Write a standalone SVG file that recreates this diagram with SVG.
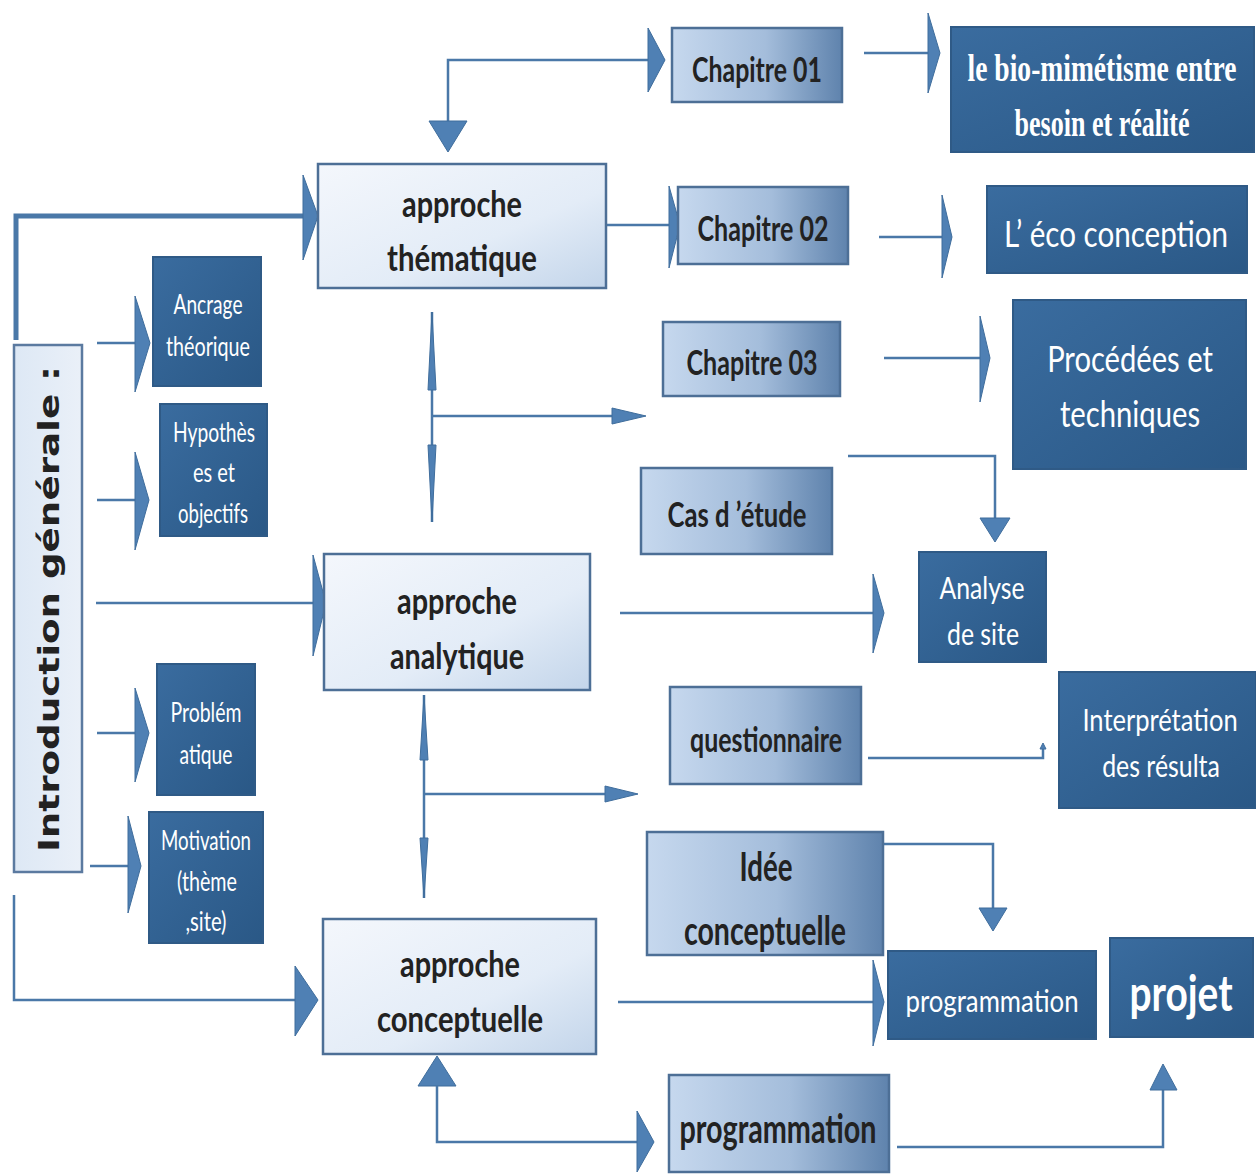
<svg xmlns="http://www.w3.org/2000/svg" width="1256" height="1175" viewBox="0 0 1256 1175">
<defs>
<linearGradient id="gLight" x1="0" y1="0" x2="1" y2="1">
<stop offset="0" stop-color="#f4f7fc"/><stop offset="0.6" stop-color="#e3ecf7"/><stop offset="1" stop-color="#c3d5ea"/>
</linearGradient>
<linearGradient id="gChap" x1="0" y1="0" x2="1" y2="0">
<stop offset="0" stop-color="#c6d8ee"/><stop offset="0.55" stop-color="#a4bddb"/><stop offset="1" stop-color="#5f83ad"/>
</linearGradient>
<linearGradient id="gDark" x1="0" y1="0" x2="1" y2="1">
<stop offset="0" stop-color="#3a6c9f"/><stop offset="1" stop-color="#2a5886"/>
</linearGradient>
<linearGradient id="gIntro" x1="0" y1="0" x2="1" y2="0">
<stop offset="0" stop-color="#dde8f5"/><stop offset="1" stop-color="#eaf0f8"/>
</linearGradient>
</defs>
<style>
.light{fill:url(#gLight);stroke:#4d6f96;stroke-width:2.5}
.chap{fill:url(#gChap);stroke:#4d6f96;stroke-width:2.5}
.dark{fill:url(#gDark);stroke:#2f5a86;stroke-width:2}
.intro{fill:url(#gIntro);stroke:#5b7aa0;stroke-width:2.5}
.tb{font-family:"Lato","Liberation Sans",sans-serif;font-weight:bold;fill:#222222;text-anchor:middle;dominant-baseline:central}
.tw{font-family:"Lato","Liberation Sans",sans-serif;fill:#ffffff;text-anchor:middle;dominant-baseline:central}
.ts{font-family:"Liberation Serif",serif;font-weight:bold;fill:#ffffff;text-anchor:middle;dominant-baseline:central}
.ln{fill:none;stroke:#4a78a8;stroke-width:2.5}
.ah{fill:#4f80b4;stroke:#3f6d9c;stroke-width:1}
</style>
<rect width="1256" height="1175" fill="#ffffff"/>

<g id="connectors">
<path class="ln" d="M16 340 V216 H305" style="stroke-width:5"/>
<polygon class="ah" points="303,175 318,216 303,260"/>
<path class="ln" d="M14 895 V1000 H296"/>
<polygon class="ah" points="295,966 318,1000 295,1036"/>
<path class="ln" d="M96 603 H314"/>
<polygon class="ah" points="313,555 326,603 313,656"/>
<path class="ln" d="M97 343 H136"/>
<polygon class="ah" points="135,296 150,343 135,392"/>
<path class="ln" d="M97 500 H136"/>
<polygon class="ah" points="135,452 149,500 135,550"/>
<path class="ln" d="M97 733 H136"/>
<polygon class="ah" points="135,688 149,733 135,782"/>
<path class="ln" d="M90 866 H129"/>
<polygon class="ah" points="128,816 141,866 128,913"/>
<path class="ln" d="M448 122 V60 H650"/>
<polygon class="ah" points="429,121 467,121 448,152"/>
<polygon class="ah" points="648,28 665,60 648,92"/>
<path class="ln" d="M864 53 H929"/>
<polygon class="ah" points="928,13 940,53 928,93"/>
<path class="ln" d="M606 225 H670"/>
<polygon class="ah" points="669,186 680,225 669,268"/>
<path class="ln" d="M879 237 H943"/>
<polygon class="ah" points="942,195 952,237 942,278"/>
<path class="ln" d="M884 358 H981"/>
<polygon class="ah" points="980,316 990,358 980,402"/>
<path class="ln" d="M432 312 V522"/>
<polygon class="ah" points="432,312 436,390 428,390"/>
<polygon class="ah" points="428,445 436,445 432,522"/>
<path class="ln" d="M432 416 H614"/>
<polygon class="ah" points="612,408 646,416 612,424"/>
<path class="ln" d="M848 456 H995 V519"/>
<polygon class="ah" points="980,518 1010,518 995,542"/>
<path class="ln" d="M620 613 H874"/>
<polygon class="ah" points="873,574 884,613 873,653"/>
<path class="ln" d="M424 695 V898"/>
<polygon class="ah" points="424,695 428,760 420,760"/>
<polygon class="ah" points="420,838 428,838 424,898"/>
<path class="ln" d="M424 794 H607"/>
<polygon class="ah" points="605,786 638,794 605,802"/>
<path class="ln" d="M868 758 H1043 V748"/>
<polygon class="ah" points="1040,749 1046,749 1043,743"/>
<path class="ln" d="M847 844 H993 V909"/>
<polygon class="ah" points="979,908 1007,908 993,931"/>
<path class="ln" d="M618 1002 H874"/>
<polygon class="ah" points="873,960 884,1002 873,1046"/>
<polygon class="ah" points="418,1086 456,1086 437,1056"/>
<path class="ln" d="M437 1086 V1142 H638"/>
<polygon class="ah" points="637,1111 654,1142 637,1172"/>
<path class="ln" d="M897 1147 H1163 V1090"/>
<polygon class="ah" points="1150,1090 1177,1090 1163,1064"/>
</g>

<g id="intro">
<rect class="intro" x="14" y="345" width="68" height="527"/>
<text class="tb" transform="translate(49,609) rotate(-90)" style="font-family:'DejaVu Sans',sans-serif;font-size:28px" textLength="486" lengthAdjust="spacingAndGlyphs">Introduction générale :</text>
</g>

<g id="approche-thematique">
<rect class="light" x="318" y="164" width="288" height="124"/>
<text class="tb" x="462" y="203" style="font-size:36px" textLength="120" lengthAdjust="spacingAndGlyphs">approche</text>
<text class="tb" x="462" y="257" style="font-size:36px" textLength="150" lengthAdjust="spacingAndGlyphs">thématique</text>
</g>

<g id="approche-analytique">
<rect class="light" x="324" y="554" width="266" height="136"/>
<text class="tb" x="457" y="600" style="font-size:36px" textLength="120" lengthAdjust="spacingAndGlyphs">approche</text>
<text class="tb" x="457" y="655" style="font-size:36px" textLength="134" lengthAdjust="spacingAndGlyphs">analytique</text>
</g>

<g id="approche-conceptuelle">
<rect class="light" x="323" y="919" width="273" height="135"/>
<text class="tb" x="460" y="963" style="font-size:36px" textLength="120" lengthAdjust="spacingAndGlyphs">approche</text>
<text class="tb" x="460" y="1018" style="font-size:36px" textLength="166" lengthAdjust="spacingAndGlyphs">conceptuelle</text>
</g>

<g id="ancrage">
<rect class="dark" x="153" y="257" width="108" height="129"/>
<text class="tw" x="208" y="304" style="font-size:26px" textLength="69" lengthAdjust="spacingAndGlyphs">Ancrage</text>
<text class="tw" x="208" y="346" style="font-size:26px" textLength="84" lengthAdjust="spacingAndGlyphs">théorique</text>
</g>

<g id="hypotheses">
<rect class="dark" x="160" y="404" width="107" height="132"/>
<text class="tw" x="214" y="432" style="font-size:26px" textLength="82" lengthAdjust="spacingAndGlyphs">Hypothès</text>
<text class="tw" x="214" y="472" style="font-size:26px" textLength="42" lengthAdjust="spacingAndGlyphs">es et</text>
<text class="tw" x="213" y="513" style="font-size:26px" textLength="70" lengthAdjust="spacingAndGlyphs">objectifs</text>
</g>

<g id="problematique">
<rect class="dark" x="157" y="664" width="98" height="131"/>
<text class="tw" x="206" y="712" style="font-size:26px" textLength="71" lengthAdjust="spacingAndGlyphs">Problém</text>
<text class="tw" x="206" y="754" style="font-size:26px" textLength="53" lengthAdjust="spacingAndGlyphs">atique</text>
</g>

<g id="motivation">
<rect class="dark" x="149" y="812" width="114" height="131"/>
<text class="tw" x="206" y="840" style="font-size:26px" textLength="90" lengthAdjust="spacingAndGlyphs">Motivation</text>
<text class="tw" x="207" y="881" style="font-size:26px" textLength="60" lengthAdjust="spacingAndGlyphs">(thème</text>
<text class="tw" x="206" y="921" style="font-size:26px" textLength="41" lengthAdjust="spacingAndGlyphs">,site)</text>
</g>

<g id="chapitre01">
<rect class="chap" x="672" y="28" width="170" height="74"/>
<text class="tb" x="757" y="68" style="font-size:34px" textLength="130" lengthAdjust="spacingAndGlyphs">Chapitre 01</text>
</g>

<g id="chapitre02">
<rect class="chap" x="678" y="187" width="170" height="77"/>
<text class="tb" x="763" y="227" style="font-size:34px" textLength="131" lengthAdjust="spacingAndGlyphs">Chapitre 02</text>
</g>

<g id="chapitre03">
<rect class="chap" x="663" y="322" width="177" height="74"/>
<text class="tb" x="752" y="361" style="font-size:34px" textLength="131" lengthAdjust="spacingAndGlyphs">Chapitre 03</text>
</g>

<g id="cas-etude">
<rect class="chap" x="641" y="468" width="191" height="86"/>
<text class="tb" x="737" y="513" style="font-size:34px" textLength="139" lengthAdjust="spacingAndGlyphs">Cas d ’étude</text>
</g>

<g id="questionnaire">
<rect class="chap" x="670" y="687" width="191" height="97"/>
<text class="tb" x="766" y="738" style="font-size:34px" textLength="152" lengthAdjust="spacingAndGlyphs">questionnaire</text>
</g>

<g id="idee-conceptuelle">
<rect class="chap" x="647" y="832" width="236" height="123"/>
<text class="tb" x="766" y="866" style="font-size:40px" textLength="53" lengthAdjust="spacingAndGlyphs">Idée</text>
<text class="tb" x="765" y="930" style="font-size:40px" textLength="162" lengthAdjust="spacingAndGlyphs">conceptuelle</text>
</g>

<g id="programmation-bas">
<rect class="chap" x="669" y="1075" width="220" height="97"/>
<text class="tb" x="778" y="1128" style="font-size:40px" textLength="197" lengthAdjust="spacingAndGlyphs">programmation</text>
</g>

<g id="biomimetisme">
<rect class="dark" x="951" y="27" width="303" height="125"/>
<text class="ts" transform="translate(1102,68) scale(0.7,1)" style="font-size:38px" textLength="384" lengthAdjust="spacingAndGlyphs">le bio-mimétisme entre</text>
<text class="ts" transform="translate(1102,123) scale(0.7,1)" style="font-size:38px" textLength="250" lengthAdjust="spacingAndGlyphs">besoin et réalité</text>
</g>

<g id="eco-conception">
<rect class="dark" x="987" y="186" width="260" height="87"/>
<text class="tw" transform="translate(1116,233) scale(0.75,1)" style="font-size:36px" textLength="299" lengthAdjust="spacingAndGlyphs">L’ éco conception</text>
</g>

<g id="procedees">
<rect class="dark" x="1013" y="300" width="233" height="169"/>
<text class="tw" transform="translate(1130,358) scale(0.75,1)" style="font-size:36px" textLength="221" lengthAdjust="spacingAndGlyphs">Procédées et</text>
<text class="tw" transform="translate(1130,413) scale(0.75,1)" style="font-size:36px" textLength="187" lengthAdjust="spacingAndGlyphs">techniques</text>
</g>

<g id="analyse-site">
<rect class="dark" x="919" y="552" width="127" height="110"/>
<text class="tw" x="982" y="587" style="font-size:30px" textLength="85" lengthAdjust="spacingAndGlyphs">Analyse</text>
<text class="tw" x="983" y="633" style="font-size:30px" textLength="72" lengthAdjust="spacingAndGlyphs">de site</text>
</g>

<g id="interpretation">
<rect class="dark" x="1059" y="672" width="197" height="136"/>
<text class="tw" transform="translate(1160,720) scale(0.75,1)" style="font-size:30px" textLength="207" lengthAdjust="spacingAndGlyphs">Interprétation</text>
<text class="tw" transform="translate(1161,766) scale(0.75,1)" style="font-size:30px" textLength="157" lengthAdjust="spacingAndGlyphs">des résulta</text>
</g>

<g id="programmation">
<rect class="dark" x="888" y="951" width="208" height="88"/>
<text class="tw" x="992" y="1000" style="font-size:30px" textLength="173" lengthAdjust="spacingAndGlyphs">programmation</text>
</g>

<g id="projet">
<rect class="dark" x="1110" y="938" width="143" height="99"/>
<text class="tw" transform="translate(1181,992) scale(0.8,1)" style="font-size:50px;font-weight:bold" textLength="129" lengthAdjust="spacingAndGlyphs">projet</text>
</g>
</svg>
